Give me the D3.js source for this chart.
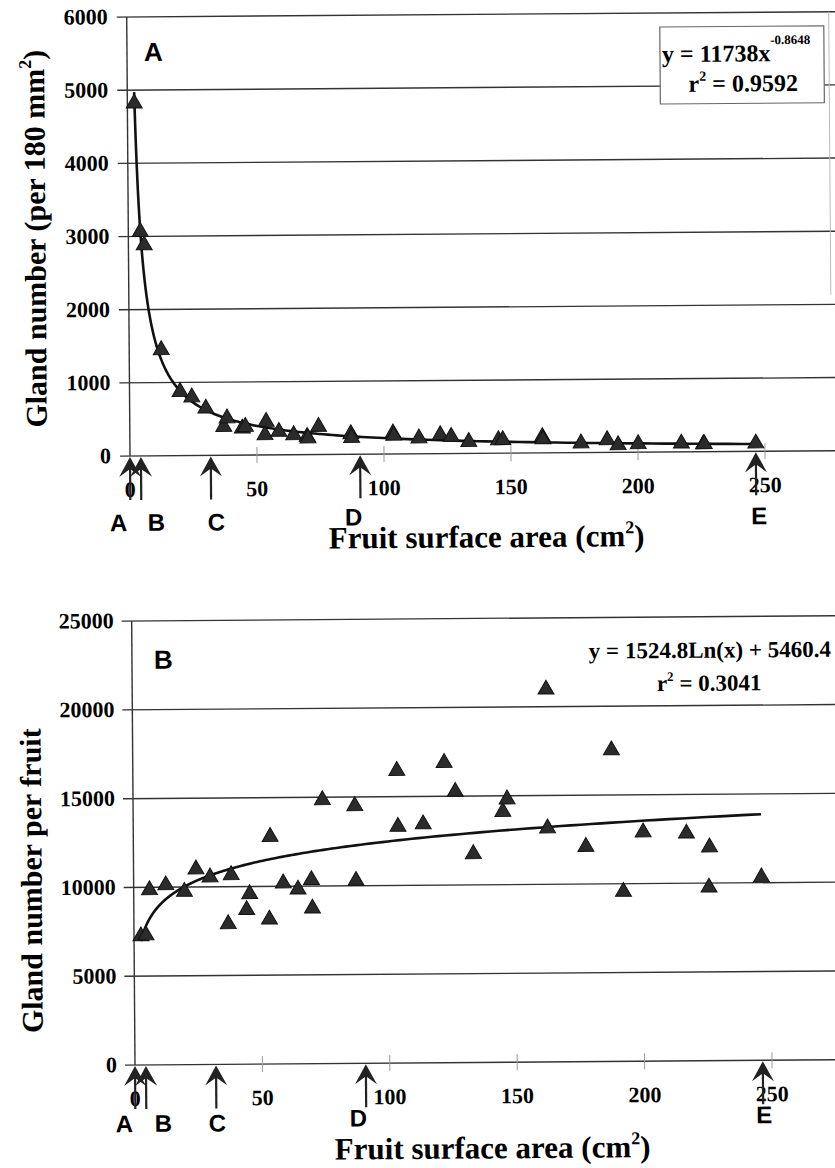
<!DOCTYPE html>
<html>
<head>
<meta charset="utf-8">
<script src="https://cdn.jsdelivr.net/npm/d3@7"></script>
<style>
  body { margin: 0; background: #fff; }
  svg { display: block; }
</style>
</head>
<body>
<script>
// fruit surface area (cm2), same fruits in both panels
var fruitArea = [2.7, 4.7, 6.2, 12.6, 19.9, 24.5, 30.0, 37.0, 38.3, 44.3, 45.5, 53.2, 53.7, 58.7, 64.5, 69.8, 70.1, 74.3,
  87.0, 87.3, 103.6, 103.9, 113.8, 122.2, 126.5, 133.4, 145.1, 146.8, 162.4, 162.6, 177.6, 187.9, 192.2, 200.1,
  217.1, 225.8, 226.1, 246.4];
// panel A : gland number per 180 mm2
var glandDensity = [4818, 3063, 2880, 1445, 873, 796, 643, 390, 505, 366, 388, 273, 455, 317, 270, 246, 224, 381,
  277, 227, 283, 253, 212, 255, 231, 160, 180, 180, 218, 188, 127, 169, 100, 112, 116, 105, 105, 109];
// panel B : gland number per fruit
var glandPerFruit = [7250, 7300, 9844, 10117, 9739, 10994, 10538, 7901, 10659, 8683, 9581, 8143, 12793, 10167, 9821,
  10345, 8745, 14840, 14487, 10286, 16459, 13309, 13440, 16889, 15255, 11737, 14105, 14803, 20976, 13156, 12100,
  17529, 9554, 12886, 12808, 9758, 12018, 10306];

var xTicks = [50, 100, 150, 200, 250];
var yTicksA = [0, 1000, 2000, 3000, 4000, 5000, 6000];
var yTicksB = [0, 5000, 10000, 15000, 20000, 25000];

// developmental stages marked with arrows
var stageLabels = ["A", "B", "C", "D", "E"];
var stageArea = [0, 4.3, 31.8, 90.6, 246.4];

// trendline coefficients shown on the chart
var powerA = 11738, powerB = -0.8648;
var logA = 1524.8, logB = 5460.4;

var serif = "'Liberation Serif', 'Times New Roman', serif";
var sans = "'Liberation Sans', Arial, sans-serif";
var tilt = -0.43;   // the scanned page is slightly rotated

var svg = d3.select("body").append("svg")
  .attr("width", 835).attr("height", 1168);
svg.append("rect").attr("width", 835).attr("height", 1168).attr("fill", "#fff");

function drawPanel(p) {
  var g = svg.append("g").attr("transform", "rotate(" + tilt + "," + p.ox + "," + p.oy + ")");
  var x = d3.scaleLinear().domain([0, 250]).range([p.ox, p.x250]);
  var y = d3.scaleLinear().domain([0, p.yTicks[p.yTicks.length - 1]]).range([p.oy, p.ytop]);

  // gridlines
  g.selectAll(".grid").data(p.yTicks).join("line")
    .attr("x1", p.ox - 10).attr("x2", 850)
    .attr("y1", function (d) { return y(d); }).attr("y2", function (d) { return y(d); })
    .attr("stroke", "#333").attr("stroke-width", 1.4);

  // y axis
  g.append("line").attr("x1", p.ox).attr("x2", p.ox).attr("y1", p.ytop).attr("y2", p.oy)
    .attr("stroke", "#333").attr("stroke-width", 1.4);

  // small x ticks
  g.selectAll(".xt").data(xTicks).join("line")
    .attr("x1", function (d) { return x(d); }).attr("x2", function (d) { return x(d); })
    .attr("y1", p.oy - 8).attr("y2", p.oy + 8)
    .attr("stroke", "#999").attr("stroke-width", 1);

  // y tick labels
  g.selectAll(".yl").data(p.yTicks).join("text")
    .attr("x", p.ox - p.yLabelGap).attr("y", function (d) { return y(d) + 7; })
    .attr("text-anchor", "end")
    .style("font-family", serif).style("font-weight", "bold").style("font-size", "22px")
    .text(function (d) { return d; });

  // x tick labels
  g.selectAll(".xl").data([0].concat(xTicks)).join("text")
    .attr("x", function (d) { return x(d); }).attr("y", p.xLabelY)
    .attr("text-anchor", "middle")
    .style("font-family", serif).style("font-weight", "bold").style("font-size", "22px")
    .text(function (d) { return d; });

  // trendline
  var lo = d3.min(fruitArea), hi = d3.max(fruitArea);
  var xs = d3.range(0, 201).map(function (i) { return lo * Math.pow(hi / lo, i / 200); });
  var line = d3.line()
    .x(function (d) { return x(d); })
    .y(function (d) { return y(p.trend(d)); });
  g.append("path").datum(xs).attr("d", line)
    .attr("fill", "none").attr("stroke", "#111").attr("stroke-width", 2.6);

  // points
  g.selectAll(".pt").data(fruitArea).join("path")
    .attr("d", d3.symbol(d3.symbolTriangle).size(110))
    .attr("transform", function (d, i) { return "translate(" + x(d) + "," + y(p.values[i]) + ")"; })
    .attr("fill", "#2b2b2b").attr("stroke", "#111").attr("stroke-width", 1);

  // stage arrows
  stageArea.forEach(function (a, i) {
    var ax = x(a);
    g.append("line").attr("x1", ax).attr("x2", ax).attr("y1", p.oy + 8).attr("y2", p.oy + 44)
      .attr("stroke", "#222").attr("stroke-width", 2.2);
    g.append("path")
      .attr("d", "M" + ax + "," + (p.oy + 1) + "L" + (ax - 11) + "," + (p.oy + 21) +
        "L" + ax + "," + (p.oy + 13) + "L" + (ax + 11) + "," + (p.oy + 21) + "Z")
      .attr("fill", "#222");
    g.append("text")
      .attr("x", ax + p.stageDx[i]).attr("y", p.stageY[i])
      .attr("text-anchor", "middle")
      .style("font-family", sans).style("font-weight", "bold").style("font-size", "24px")
      .text(stageLabels[i]);
  });

  // panel letter
  g.append("text").attr("x", p.ox + p.letterDx).attr("y", p.letterY)
    .style("font-family", sans).style("font-weight", "bold").style("font-size", "26px")
    .text(p.letter);

  // x title
  var xt = g.append("text").attr("x", p.xTitleX).attr("y", p.xTitleY)
    .attr("text-anchor", "middle")
    .style("font-family", serif).style("font-weight", "bold").style("font-size", "31px");
  xt.append("tspan").text("Fruit surface area (cm");
  xt.append("tspan").attr("dy", -13).style("font-size", "18px").text("2");
  xt.append("tspan").attr("dy", 13).text(")");

  // y title
  var yt = g.append("text")
    .attr("transform", "translate(" + p.yTitleX + "," + p.yTitleY + ") rotate(-90)")
    .attr("text-anchor", "middle")
    .style("font-family", serif).style("font-weight", "bold").style("font-size", "30px");
  p.yTitle(yt);

  return g;
}

var gA = drawPanel({
  ox: 130, oy: 456, x250: 765, ytop: 17, yTicks: yTicksA, values: glandDensity,
  trend: function (v) { return powerA * Math.pow(v, powerB); },
  yLabelGap: 19, xLabelY: 497,
  stageY: [531, 531, 531, 527, 529], stageDx: [-12, 15, 5, -7, 3],
  letter: "A", letterDx: 17, letterY: 61,
  xTitleX: 486, xTitleY: 550,
  yTitleX: 47, yTitleY: 238,
  yTitle: function (t) {
    t.append("tspan").text("Gland number (per 180 mm");
    t.append("tspan").attr("dy", -13).style("font-size", "18px").text("2");
    t.append("tspan").attr("dy", 13).text(")");
  }
});

// faint page edge line on the right of panel A
gA.append("line").attr("x1", 832).attr("x2", 832).attr("y1", 17).attr("y2", 300)
  .attr("stroke", "#bbb").attr("stroke-width", 1);

// equation box A
gA.append("rect").attr("x", 663).attr("y", 31).attr("width", 164).attr("height", 77)
  .attr("fill", "#fff").attr("stroke", "#666").attr("stroke-width", 1.2);
var eqA = gA.append("text").attr("x", 665).attr("y", 66)
  .style("font-family", serif).style("font-weight", "bold").style("font-size", "24px");
eqA.append("tspan").text("y = " + powerA + "x");
eqA.append("tspan").attr("dy", -17).style("font-size", "13px").text(powerB);
var r2A = gA.append("text").attr("x", 746).attr("y", 96).attr("text-anchor", "middle")
  .style("font-family", serif).style("font-weight", "bold").style("font-size", "24px");
r2A.append("tspan").text("r");
r2A.append("tspan").attr("dy", -11).style("font-size", "14px").text("2");
r2A.append("tspan").attr("dy", 11).text(" = 0.9592");

var gB = drawPanel({
  ox: 135, oy: 1065, x250: 772, ytop: 621, yTicks: yTicksB, values: glandPerFruit,
  trend: function (v) { return logA * Math.log(v) + logB; },
  yLabelGap: 18, xLabelY: 1106,
  stageY: [1132, 1132, 1132, 1128, 1128], stageDx: [-11, 17, 1, -8, 1],
  letter: "B", letterDx: 22, letterY: 669,
  xTitleX: 492, xTitleY: 1161,
  yTitleX: 43, yTitleY: 880,
  yTitle: function (t) { t.text("Gland number per fruit"); }
});

gB.append("text").attr("x", 713).attr("y", 662).attr("text-anchor", "middle")
  .style("font-family", serif).style("font-weight", "bold").style("font-size", "23px")
  .text("y = " + logA + "Ln(x) + " + logB);
var r2B = gB.append("text").attr("x", 712).attr("y", 695).attr("text-anchor", "middle")
  .style("font-family", serif).style("font-weight", "bold").style("font-size", "23px");
r2B.append("tspan").text("r");
r2B.append("tspan").attr("dy", -10).style("font-size", "13px").text("2");
r2B.append("tspan").attr("dy", 10).text(" = 0.3041");
</script>
</body>
</html>
